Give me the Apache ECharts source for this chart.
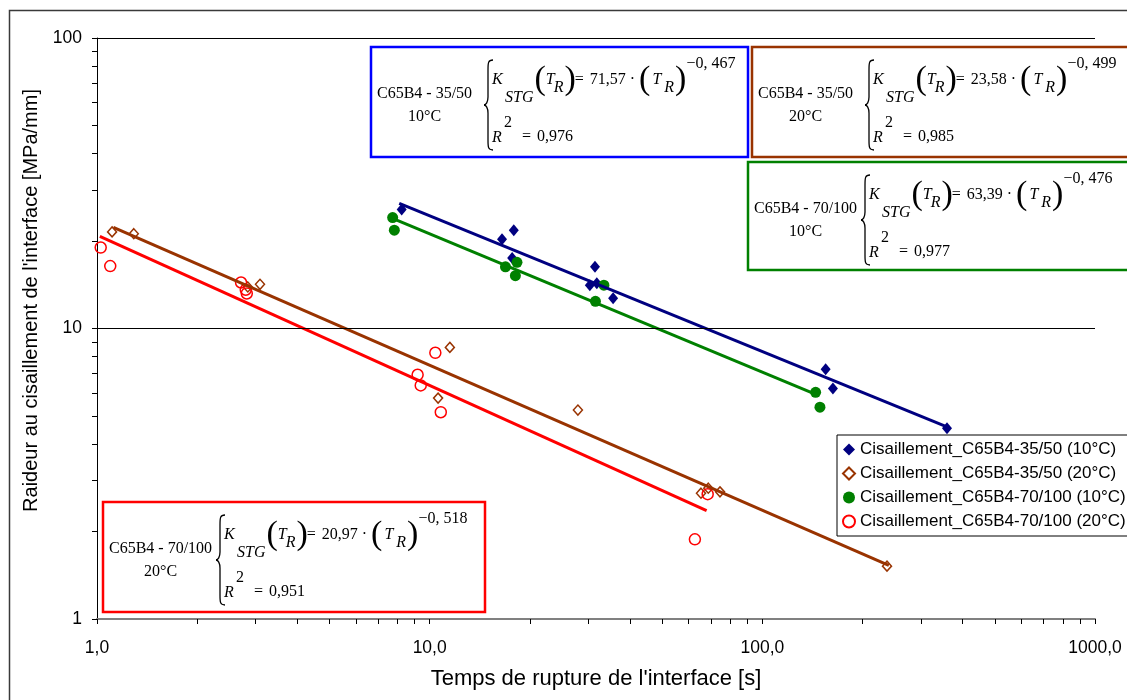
<!DOCTYPE html>
<html><head><meta charset="utf-8">
<script src="https://cdn.jsdelivr.net/npm/echarts@6/dist/echarts.min.js"></script>
<style>html,body{margin:0;padding:0;background:#fff}#c{width:1127px;height:700px}</style>
</head><body><div id="c"></div>
<script>
// ---------- data ----------
const xTickValues = [1,2,3,4,5,6,7,8,9,10,20,30,40,50,60,70,80,90,100,200,300,400,500,600,700,800,900,1000];
const yTickValues = [1,2,3,4,5,6,7,8,9,10,20,30,40,50,60,70,80,90,100];
const gridLineValues = [10, 100];

const names = [
  'Cisaillement_C65B4-35/50 (10°C)',
  'Cisaillement_C65B4-35/50 (20°C)',
  'Cisaillement_C65B4-70/100 (10°C)',
  'Cisaillement_C65B4-70/100 (20°C)'
];

// 35/50 10°C
const t3550_10 = [8.24, 16.5, 17.9, 17.7, 31.4, 30.3, 31.8, 35.6, 155, 163, 359];
const k3550_10 = [25.7, 20.3, 21.8, 17.5, 16.3, 14.1, 14.3, 12.7, 7.24, 6.22, 4.54];
// 35/50 20°C
const t3550_20 = [1.11, 1.29, 3.09, 2.84, 11.5, 10.6, 27.9, 65.4, 68.8, 74.6, 237];
const k3550_20 = [21.5, 21.2, 14.2, 13.9, 8.61, 5.76, 5.24, 2.71, 2.82, 2.74, 1.52];
// 70/100 10°C
const t70100_10 = [7.74, 7.83, 16.9, 18.3, 18.1, 33.4, 31.5, 144.6, 149];
const k70100_10 = [24.1, 21.8, 16.3, 16.9, 15.2, 14.1, 12.4, 6.03, 5.36];
// 70/100 20°C
const t70100_20 = [1.026, 1.096, 2.71, 2.80, 2.82, 10.4, 9.2, 9.4, 10.8, 68.5, 62.7];
const k70100_20 = [19.0, 16.4, 14.4, 13.6, 13.2, 8.25, 6.93, 6.37, 5.15, 2.69, 1.88];

// trend line end points
const fit3550_10_t = [8.1, 362];   const fit3550_10_k = [26.95, 4.57];
const fit3550_20_t = [1.12, 240];  const fit3550_20_k = [22.28, 1.53];
const fit70100_10_t = [7.7, 143];  const fit70100_10_k = [23.99, 5.97];
const fit70100_20_t = [1.02, 68];  const fit70100_20_k = [20.76, 2.36];

// equation boxes (texts)
const boxLabel1 = ['C65B4 - 35/50', 'C65B4 - 35/50', 'C65B4 - 70/100', 'C65B4 - 70/100'];
const boxLabel2 = ['10°C', '20°C', '10°C', '20°C'];
const boxCoef = ['71,57', '23,58', '63,39', '20,97'];
const boxExp = ['−0, 467', '−0, 499', '−0, 476', '−0, 518'];
const boxR2 = ['0,976', '0,985', '0,977', '0,951'];

const xName = "Temps de rupture de l'interface [s]";
const yName = "Raideur au cisaillement de l'interface [MPa/mm]";

// ---------- helpers ----------
const zip = (a, b) => a.map((v, i) => [v, b[i]]);
const SANS = '"Liberation Sans", Arial, sans-serif';
const SERIF = '"Liberation Serif", "Times New Roman", serif';
const mctx = document.createElement('canvas').getContext('2d');
function tw(s, font) { mctx.font = font; return mctx.measureText(s).width; }

function makeBox(x0, y0, w, h, color, i) {
  const els = [];
  els.push({ type: 'rect', shape: { x: x0, y: y0, width: w, height: h },
    style: { fill: '#fff', stroke: color, lineWidth: 2.5 }, z: 100 });
  const f16 = '16px ' + SERIF, fi16 = 'italic 16px ' + SERIF, fp = '34px ' + SERIF;
  const txt = (x, y, s, font, align) => els.push({ type: 'text', x: x, y: y, z: 101,
    style: { text: s, font: font, fill: '#000', align: align || 'left', textAlign: align || 'left',
      verticalAlign: 'middle', textVerticalAlign: 'middle' } });
  const bez = (x1, y1, c1x, c1y, c2x, c2y, x2, y2) => els.push({ type: 'bezierCurve', z: 101,
    shape: { x1: x1, y1: y1, cpx1: c1x, cpy1: c1y, cpx2: c2x, cpy2: c2y, x2: x2, y2: y2 },
    style: { fill: 'none', stroke: '#000', lineWidth: 1.3 } });
  const seg = (x1, y1, x2, y2) => els.push({ type: 'line', z: 101, shape: { x1: x1, y1: y1, x2: x2, y2: y2 },
    style: { stroke: '#000', lineWidth: 1.3 } });
  const w1 = tw(boxLabel1[i], f16);
  const cxl = x0 + 6 + w1 / 2;
  txt(cxl, y0 + 47, boxLabel1[i], f16, 'center');
  txt(cxl, y0 + 70, boxLabel2[i], f16, 'center');
  // brace
  const bx = x0 + 113, top = y0 + 13, bot = y0 + 103, mid = y0 + 58;
  bez(bx + 9, top, bx + 4, top, bx + 4, top + 3, bx + 4, top + 10);
  seg(bx + 4, top + 10, bx + 4, mid - 8);
  bez(bx + 4, mid - 8, bx + 4, mid - 3, bx + 2, mid, bx, mid);
  bez(bx, mid, bx + 2, mid, bx + 4, mid + 3, bx + 4, mid + 8);
  seg(bx + 4, mid + 8, bx + 4, bot - 10);
  bez(bx + 4, bot - 10, bx + 4, bot - 3, bx + 4, bot, bx + 9, bot);
  // first line
  let cx = x0 + 121;
  txt(cx, y0 + 33, 'K', fi16);
  cx = x0 + 134;
  txt(cx, y0 + 51, 'STG', fi16);
  cx += tw('STG', fi16) + 1;
  txt(cx, y0 + 33, '(', fp); cx += tw('(', fp);
  txt(cx, y0 + 33, 'T', fi16); cx += tw('T', fi16) - 1;
  txt(cx, y0 + 41, 'R', fi16); cx += tw('R', fi16) + 1;
  txt(cx, y0 + 33, ')', fp); cx += tw(')', fp) - 1;
  txt(cx, y0 + 33, '=', f16); cx += tw('=', f16) + 6;
  txt(cx, y0 + 33, boxCoef[i], f16); cx += tw(boxCoef[i], f16) + 4;
  txt(cx, y0 + 33, '·', f16); cx += tw('·', f16) + 4;
  txt(cx, y0 + 33, '(', fp); cx += tw('(', fp) + 2;
  txt(cx, y0 + 33, 'T', fi16); cx += tw('T', fi16) + 3;
  txt(cx, y0 + 41, 'R', fi16); cx += tw('R', fi16) + 1;
  txt(cx, y0 + 33, ')', fp); cx += tw(')', fp);
  txt(cx, y0 + 17, boxExp[i], f16);
  // second line
  txt(x0 + 121, y0 + 91, 'R', fi16);
  txt(x0 + 133, y0 + 76, '2', f16);
  txt(x0 + 151, y0 + 90, '=', f16);
  txt(x0 + 166, y0 + 90, boxR2[i], f16);
  return els;
}

const graphics = [
  { type: 'rect', shape: { x: 9.5, y: 10.5, width: 1300, height: 900 },
    style: { fill: 'none', stroke: '#3a3a3a', lineWidth: 1.5 }, z: 0, silent: true }
]
  .concat(makeBox(371, 47, 377, 110, '#0000ff', 0))
  .concat(makeBox(752, 47, 420, 110, '#993300', 1))
  .concat(makeBox(748, 162, 420, 108, '#008000', 2))
  .concat(makeBox(103, 502, 382, 110, '#ff0000', 3));

const chart = echarts.init(document.getElementById('c'), null, { renderer: 'canvas' });
const hollow = 'rgba(0,0,0,0)';
const lineCommon = { type: 'line', symbol: 'none', showSymbol: false, silent: true, z: 4, animation: false };

chart.setOption({
  animation: false,
  backgroundColor: '#fff',
  grid: { left: 97, top: 38, right: 32, bottom: 81, containLabel: false },
  xAxis: {
    type: 'log', logBase: 10, min: 1, max: 1000,
    name: xName, nameLocation: 'middle', nameGap: 49,
    nameTextStyle: { fontSize: 22, color: '#000', fontFamily: SANS },
    axisLine: { show: true, onZero: false, lineStyle: { color: '#808080', width: 2 } },
    axisTick: { show: true, inside: false, length: 5, customValues: xTickValues, lineStyle: { color: '#000', width: 1 } },
    minorTick: { show: false },
    axisLabel: { fontSize: 17.5, color: '#000', fontFamily: SANS, margin: 20,
      formatter: v => Number(v).toFixed(1).replace('.', ',') },
    splitLine: { show: false }
  },
  yAxis: {
    type: 'log', logBase: 10, min: 1, max: 100,
    name: yName, nameLocation: 'middle', nameGap: 43,
    nameTextStyle: { fontSize: 20, color: '#000', fontFamily: SANS, padding: [0, 0, 0, 56] },
    axisLine: { show: true, onZero: false, lineStyle: { color: '#000', width: 1 } },
    axisTick: { show: true, inside: false, length: 5, customValues: yTickValues, lineStyle: { color: '#000', width: 1 } },
    axisLabel: { fontSize: 17.5, color: '#000', fontFamily: SANS, margin: 15, formatter: v => String(Number(v)) },
    splitLine: { show: false }
  },
  legend: {
    data: names, orient: 'vertical', left: 837, top: 435,
    padding: [6, 10, 6, 5], itemGap: 7, itemWidth: 12, itemHeight: 12,
    borderColor: '#000', borderWidth: 1, backgroundColor: '#fff',
    textStyle: { fontSize: 17, color: '#000', fontFamily: SANS }, z: 50
  },
  graphic: graphics,
  series: [
    { type: 'scatter', name: names[0], data: zip(t3550_10, k3550_10), symbol: 'diamond', symbolSize: [10, 12],
      itemStyle: { color: '#000080', opacity: 1 }, z: 3 },
    { type: 'scatter', name: names[1], data: zip(t3550_20, k3550_20), symbol: 'diamond', symbolSize: [9, 10],
      itemStyle: { color: hollow, borderColor: '#993300', borderWidth: 1.5, opacity: 1 }, z: 3 },
    { type: 'scatter', name: names[2], data: zip(t70100_10, k70100_10), symbol: 'circle', symbolSize: 11,
      itemStyle: { color: '#008000', opacity: 1 }, z: 3 },
    { type: 'scatter', name: names[3], data: zip(t70100_20, k70100_20), symbol: 'circle', symbolSize: 11,
      itemStyle: { color: hollow, borderColor: '#ff0000', borderWidth: 1.5, opacity: 1 }, z: 3 },
    Object.assign({}, lineCommon, { name: 'fit1', data: zip(fit3550_10_t, fit3550_10_k), lineStyle: { color: '#000080', width: 3 },
      markLine: { silent: true, symbol: 'none', label: { show: false }, animation: false,
        lineStyle: { color: '#000', width: 1, type: 'solid' }, data: gridLineValues.map(v => ({ yAxis: v })) } }),
    Object.assign({}, lineCommon, { name: 'fit2', data: zip(fit3550_20_t, fit3550_20_k), lineStyle: { color: '#993300', width: 3 } }),
    Object.assign({}, lineCommon, { name: 'fit3', data: zip(fit70100_10_t, fit70100_10_k), lineStyle: { color: '#008000', width: 3 } }),
    Object.assign({}, lineCommon, { name: 'fit4', data: zip(fit70100_20_t, fit70100_20_k), lineStyle: { color: '#ff0000', width: 3 } })
  ]
});
</script>
</body></html>
